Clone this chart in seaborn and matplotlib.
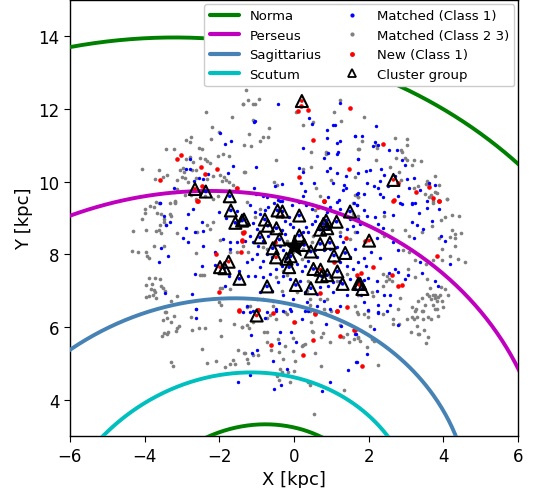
import numpy as np
import matplotlib
matplotlib.use("Agg")
import matplotlib.pyplot as plt
from matplotlib.lines import Line2D
import seaborn as sns

# spiral arms: log spirals around the Galactic centre, R = r0 * exp(-k * theta)
arm_names = ["Norma", "Perseus", "Sagittarius", "Scutum", "Norma"]
arm_colors = ["green", "m", "steelblue", "c", "green"]
arm_r0 = [13.61, 9.49, 6.61, 4.62, 3.24]
arm_k = [0.229, 0.232, 0.235, 0.240, 0.230]

blue_pts = np.array([
    (-1.97, 11.34), (-1.84, 11.03), (-1.69, 11.13), (-2.78, 10.63), (-2.89, 10.35), (-2.78, 10.35),
    (-2.68, 10.01), (-2.54, 10.11), (-2.43, 10.08), (-2.29, 10.20), (-1.77, 10.24), (-1.63, 10.43),
    (-3.59, 9.42), (-3.20, 9.82),
    (-0.44, 12.13), (1.23, 12.16), (-1.07, 11.64), (-1.04, 11.66), (0.41, 11.75), (0.48, 11.59),
    (0.89, 11.43), (1.05, 11.57), (1.11, 11.57), (0.89, 11.20), (1.23, 11.13), (1.14, 11.06),
    (1.62, 11.26), (0.23, 10.92), (0.92, 10.79), (1.18, 10.83), (1.16, 10.75), (0.81, 10.66),
    (1.70, 10.63), (-1.03, 10.41), (0.14, 10.38), (0.25, 10.26), (0.96, 10.37), (0.87, 10.29),
    (1.15, 10.24), (1.39, 10.15), (1.05, 9.96), (1.34, 9.91), (1.40, 9.84), (0.54, 9.97),
    (0.20, 9.97), (0.30, 9.75), (-0.33, 9.93), (-0.51, 9.88), (-1.07, 9.82), (-1.03, 9.66),
    (-0.82, 9.62), (-0.71, 9.59), (-0.42, 9.51), (-0.38, 9.46), (0.23, 9.60), (0.91, 9.58),
    (1.21, 9.49), (1.30, 9.77), (1.61, 9.42), (1.70, 9.69),
    (2.20, 11.53), (1.63, 11.27), (1.81, 11.27), (2.17, 11.09), (2.11, 10.98), (2.26, 11.00),
    (2.54, 10.88), (2.75, 10.86), (2.88, 10.61), (2.97, 10.45), (1.72, 10.63), (1.92, 10.30),
    (2.04, 10.32), (2.33, 10.35), (2.42, 10.19), (2.29, 10.02), (1.96, 9.97), (2.15, 9.87),
    (2.26, 9.83), (2.51, 9.88), (2.69, 10.15), (3.02, 10.07), (3.20, 10.10), (3.08, 9.84),
    (3.36, 9.78), (3.60, 9.97), (3.76, 9.91), (2.79, 9.62), (2.29, 9.67), (2.37, 9.57),
    (1.88, 9.67), (1.68, 9.66), (2.84, 9.42), (3.15, 9.42), (1.70, 10.24),
    (-3.58, 9.42), (-2.70, 9.24), (-2.84, 9.12), (-3.48, 9.07), (-3.32, 8.89), (-3.43, 8.82),
    (-2.47, 8.90), (-2.43, 8.64), (-2.88, 8.72), (-2.65, 8.63), (-2.96, 8.45), (-2.84, 8.35),
    (-2.43, 8.23), (-3.57, 8.19), (-3.38, 7.97), (-3.62, 7.78), (-2.00, 9.16), (-1.83, 9.00),
    (-1.53, 9.20), (-1.91, 8.43), (-1.70, 8.35), (-1.52, 8.35), (-1.72, 8.15), (-2.11, 8.08),
    (-2.12, 7.71), (-2.45, 7.69), (-2.65, 7.45), (-1.75, 7.40), (-1.86, 7.12), (-1.48, 7.55),
    (-2.74, 6.92), (-3.46, 6.94), (-2.61, 6.50),
    (-1.18, 9.35), (-1.05, 9.16), (-0.91, 9.12), (-1.27, 8.84), (-1.11, 8.87), (-1.00, 8.70),
    (-1.18, 8.52), (-1.31, 8.38), (-1.09, 8.34), (-0.96, 8.24), (-0.82, 8.38), (-0.69, 8.52),
    (-0.24, 8.93), (-0.11, 8.84), (-0.13, 9.02), (-0.02, 8.75), (-0.33, 8.66), (-0.24, 8.56),
    (0.25, 8.61), (0.32, 8.75), (0.38, 8.61), (0.47, 8.84), (0.56, 8.93), (0.62, 9.05),
    (0.47, 9.25), (0.32, 9.36), (0.14, 9.44), (-0.06, 9.35), (-0.33, 9.46), (-0.54, 9.42),
    (-0.69, 9.30), (-0.78, 9.21), (-0.38, 8.24), (-0.29, 8.11), (-0.60, 7.92), (-0.73, 8.01),
    (-0.82, 7.83), (-1.00, 8.01), (-1.13, 7.88), (-1.27, 7.78), (-0.91, 7.65), (-1.05, 7.42),
    (-1.22, 7.42), (-0.82, 7.37), (-0.64, 7.46), (-0.47, 7.60), (-0.33, 7.69), (0.07, 7.74),
    (0.21, 7.55), (0.29, 7.69), (0.38, 7.83), (0.62, 7.92), (0.56, 8.11), (0.79, 8.11),
    (0.96, 8.15), (1.14, 8.20), (1.32, 8.34), (1.23, 8.52), (1.41, 8.70), (1.59, 8.79),
    (1.68, 8.61), (1.63, 8.15), (1.50, 7.92), (1.23, 7.78), (1.41, 7.69), (1.59, 7.60),
    (1.68, 7.42), (1.50, 7.33), (1.23, 7.28), (1.05, 7.23), (0.92, 7.14), (0.70, 7.10),
    (0.61, 6.91), (0.29, 6.96), (0.16, 7.28), (-0.11, 7.32), (-0.29, 7.42), (-0.42, 7.23),
    (-0.60, 7.00), (-0.91, 6.96), (-1.00, 6.77), (-0.82, 6.77), (-0.55, 6.73), (-0.29, 6.87),
    (-0.02, 6.77), (0.34, 6.68), (0.79, 6.73), (1.05, 6.96), (1.41, 6.87), (1.63, 7.05),
    (1.23, 6.59), (0.96, 6.50), (0.61, 6.59), (0.38, 6.45), (-0.11, 6.50), (-0.47, 6.50),
    (-0.73, 6.41), (-1.09, 6.45), (-1.27, 6.59), (-1.36, 6.41), (1.16, 9.44), (1.23, 9.25),
    (0.96, 9.30), (0.79, 9.44), (0.87, 9.16), (1.50, 8.98), (1.72, 8.98), (1.68, 9.35),
    (1.68, 9.35), (1.86, 9.21), (1.95, 9.05), (2.17, 9.02), (2.42, 9.16), (2.66, 9.09),
    (2.88, 9.39), (3.15, 9.39), (3.24, 9.42), (3.55, 9.46), (3.55, 9.27), (3.35, 9.14),
    (3.87, 9.25), (1.77, 8.84), (2.26, 8.84), (2.39, 8.72), (3.15, 8.90), (3.28, 8.81),
    (3.46, 8.70), (3.69, 8.93), (3.94, 8.52), (4.03, 8.38), (2.21, 8.45), (2.66, 8.34),
    (3.20, 8.45), (2.79, 8.11), (2.06, 8.06), (2.30, 7.89), (1.88, 7.89), (1.72, 7.80),
    (1.92, 7.69), (3.37, 7.78), (4.18, 7.74), (3.42, 7.49), (2.69, 7.60), (2.78, 7.53),
    (2.53, 7.49), (3.04, 7.44), (2.97, 7.33), (2.21, 7.28), (1.99, 7.34), (1.87, 7.31),
    (2.21, 7.00), (2.42, 6.88), (2.57, 6.88), (1.79, 6.87), (2.24, 6.61), (2.57, 6.61),
    (1.99, 6.47), (2.24, 6.41), (3.78, 7.28), (3.85, 7.12), (1.86, 6.68),
    (-2.61, 6.50), (-2.61, 6.26), (-1.49, 4.50),
    (-1.18, 6.41), (-0.78, 6.24), (-0.47, 6.45), (-0.29, 6.43), (-0.09, 6.45), (0.21, 6.21),
    (0.29, 6.45), (0.86, 6.09), (1.27, 6.04), (-0.38, 5.87), (-0.09, 5.86), (0.04, 5.58),
    (-0.41, 5.56), (-1.16, 5.79), (-1.13, 5.28), (-1.00, 5.38), (-0.55, 5.08), (-0.20, 4.85),
    (1.65, 5.81), (1.66, 5.03), (1.44, 4.83), (0.96, 4.48), (0.76, 4.25), (-0.53, 4.30),
    (-0.35, 4.41), (-1.18, 4.69),
    (2.26, 6.39), (2.48, 6.45), (2.13, 5.95), (2.77, 6.07), (1.63, 5.81), (1.96, 5.26), (1.68, 5.03),
])

gray_pts = np.array([
    (-1.36, 12.13), (-2.36, 11.92), (-1.65, 11.79), (-2.19, 11.51), (-2.01, 11.37), (-2.76, 11.23),
    (-2.88, 11.16), (-2.78, 11.09), (-2.23, 11.18), (-2.55, 10.92), (-2.46, 10.89), (-3.43, 10.89),
    (-3.22, 10.91), (-1.90, 10.77), (-2.03, 10.72), (-1.73, 10.70), (-2.79, 10.68), (-2.88, 10.63),
    (-2.70, 10.54), (-2.52, 10.65), (-2.37, 10.63), (-2.32, 10.56), (-2.25, 10.52), (-2.98, 10.37),
    (-3.05, 10.31), (-2.95, 10.28), (-2.74, 10.33), (-2.63, 10.31), (-4.07, 10.36), (-3.61, 10.33),
    (-3.41, 10.19), (-3.50, 10.12), (-3.72, 10.08), (-3.12, 10.06), (-3.00, 10.13), (-2.91, 10.10),
    (-2.83, 9.99), (-2.61, 10.10), (-2.32, 10.08), (-2.18, 10.15), (-1.98, 10.19), (-1.88, 10.13),
    (-1.94, 10.03), (-1.82, 10.06), (-1.73, 9.99), (-1.63, 9.90), (-1.54, 9.84), (-3.12, 9.80),
    (-2.92, 9.64), (-2.77, 9.64), (-2.62, 9.53), (-2.39, 9.62), (-2.16, 9.53), (-2.03, 9.62),
    (-3.21, 9.71), (-3.68, 9.44), (-3.18, 9.44), (-1.34, 10.26),
    (-1.29, 12.53), (-1.22, 12.24), (-1.36, 12.13), (-1.11, 12.15), (-1.05, 12.14), (-0.95, 12.28),
    (-1.09, 11.69), (-1.20, 11.32), (-0.84, 11.23), (-0.70, 11.23), (-0.66, 11.48), (-0.91, 11.11),
    (-1.33, 11.02), (-1.15, 10.97), (-0.48, 10.60), (-1.31, 10.26), (0.25, 11.57), (0.50, 11.64),
    (0.05, 11.93), (0.45, 10.83), (0.85, 10.83), (1.06, 11.93), (1.25, 11.67), (0.25, 10.36),
    (0.45, 10.41), (0.98, 10.06), (0.59, 9.82), (0.70, 9.60), (1.63, 9.64), (1.72, 9.57),
    (1.63, 10.13), (1.72, 10.89), (-0.54, 9.99), (-0.45, 9.92), (1.23, 12.24), (0.86, 10.77),
    (1.88, 11.79), (1.83, 11.12), (1.74, 10.89), (2.20, 11.00), (2.22, 10.92), (2.71, 11.20),
    (3.02, 11.18), (3.02, 11.00), (2.87, 10.88), (2.88, 10.81), (2.72, 10.66), (2.96, 10.66),
    (3.02, 10.60), (3.20, 10.60), (3.40, 10.58), (3.15, 10.45), (2.19, 10.59), (2.58, 10.40),
    (2.81, 10.28), (2.86, 10.06), (3.76, 10.15), (3.88, 9.90), (3.55, 10.02), (3.53, 9.94),
    (3.62, 9.90), (3.33, 9.88), (3.51, 9.66), (3.67, 9.64), (3.62, 9.57), (3.78, 9.73),
    (3.82, 9.69), (3.71, 9.48), (4.09, 9.53), (3.22, 9.82), (1.71, 9.57),
    (-3.19, 9.48), (-3.19, 9.42), (-3.32, 9.42), (-3.61, 9.42), (-3.86, 9.33), (-3.74, 9.31),
    (-3.98, 9.25), (-4.00, 9.13), (-4.07, 8.98), (-3.66, 9.13), (-3.55, 9.12), (-3.32, 9.11),
    (-3.28, 9.07), (-3.48, 8.98), (-3.47, 8.89), (-3.43, 8.81), (-3.59, 8.81), (-4.30, 8.64),
    (-3.95, 8.66), (-3.70, 8.64), (-3.61, 8.68), (-3.56, 8.58), (-3.13, 8.58), (-2.59, 8.63),
    (-2.32, 8.82), (-2.18, 8.89), (-2.25, 8.70), (-3.75, 8.24), (-3.48, 8.23), (-4.34, 8.09),
    (-4.17, 8.06), (-3.96, 8.08), (-3.93, 7.97), (-3.88, 7.90), (-2.61, 8.05), (-2.51, 7.44),
    (-2.47, 7.44), (-2.41, 7.44), (-3.87, 7.36), (-3.71, 7.36), (-3.59, 7.32), (-3.95, 7.16),
    (-3.81, 7.19), (-3.84, 7.05), (-3.75, 7.03), (-3.71, 6.96), (-3.57, 7.12), (-3.50, 7.07),
    (-3.46, 7.00), (-3.96, 6.82), (-3.88, 6.85), (-3.77, 6.89), (-3.68, 6.79), (-3.30, 6.73),
    (-3.14, 6.85), (-3.43, 6.41), (-2.01, 6.70), (-1.96, 6.61), (-1.98, 7.07), (-1.92, 7.07),
    (-1.98, 8.41), (-1.71, 8.06), (-1.52, 8.06), (-1.71, 7.05),
    (-1.27, 9.44), (-0.91, 9.25), (-1.05, 9.02), (-1.40, 8.61), (-1.36, 8.24), (-1.22, 8.06),
    (-0.82, 8.20), (-0.73, 8.15), (-0.20, 8.38), (0.03, 8.38), (0.12, 8.15), (0.25, 8.15),
    (0.34, 8.06), (-0.02, 8.06), (-0.29, 7.55), (-0.20, 7.43), (-0.47, 7.37), (0.38, 7.28),
    (0.34, 7.00), (0.07, 6.96), (-0.33, 7.00), (0.43, 6.77), (0.70, 6.77), (0.87, 6.77),
    (1.14, 7.28), (0.96, 7.37), (1.41, 7.46), (1.23, 8.61), (1.59, 9.12), (1.50, 8.43),
    (0.52, 8.52), (0.47, 8.34), (0.21, 7.88), (-0.24, 6.41), (-0.55, 6.57), (-1.27, 6.55),
    (-1.18, 6.59), (0.79, 6.50), (0.43, 6.61), (1.68, 6.41), (1.72, 6.87), (0.56, 9.21), (1.59, 9.42),
    (2.42, 9.07), (1.63, 8.61), (2.35, 8.59), (2.42, 8.50), (2.62, 8.68), (2.97, 8.66),
    (3.08, 8.52), (2.93, 8.13), (3.08, 8.06), (3.42, 8.61), (3.69, 8.79), (3.94, 8.96),
    (4.05, 9.02), (4.22, 9.09), (4.42, 9.07), (4.22, 8.66), (4.31, 8.56), (4.47, 8.59),
    (3.87, 8.45), (4.18, 8.47), (4.31, 8.45), (3.97, 8.15), (4.31, 8.24), (4.18, 7.95),
    (4.40, 7.88), (4.58, 7.80), (3.96, 7.86), (3.71, 7.86), (3.53, 7.74), (3.24, 7.86),
    (2.39, 7.46), (2.48, 7.40), (2.53, 7.33), (2.45, 7.28), (2.62, 7.28), (2.39, 7.12),
    (3.06, 7.60), (3.24, 7.37), (3.55, 7.33), (3.64, 7.07), (3.94, 7.10), (4.04, 7.05),
    (4.12, 6.87), (3.55, 6.91), (3.62, 6.85), (3.71, 6.88), (3.78, 6.87), (3.85, 6.82),
    (3.67, 6.77), (3.76, 6.79), (3.82, 6.73), (3.91, 6.87), (3.96, 6.73), (3.73, 6.61),
    (3.51, 6.61), (3.42, 6.79), (3.33, 6.73), (3.15, 6.55), (3.26, 6.50), (3.46, 6.45),
    (3.82, 6.50), (4.00, 6.55), (2.84, 6.79), (2.12, 6.85), (2.08, 6.97), (1.72, 9.07),
    (1.63, 6.59), (2.79, 6.50), (3.71, 9.42), (4.09, 9.53),
    (-3.44, 6.41), (-3.50, 6.20), (-3.40, 6.24), (-3.21, 6.30), (-3.28, 6.13), (-3.07, 6.02),
    (-3.12, 5.97), (-3.16, 5.88), (-3.37, 5.87), (-3.41, 5.81), (-3.48, 5.84), (-3.53, 5.75),
    (-2.72, 5.93), (-2.55, 5.98), (-2.37, 5.97), (-2.76, 6.29), (-1.98, 6.20), (-1.96, 5.76),
    (-1.61, 6.09), (-1.40, 5.99), (-2.45, 5.40), (-1.49, 5.38), (-1.34, 5.29), (-3.30, 5.03),
    (-3.23, 4.92), (-2.32, 5.01), (-2.09, 5.06), (-1.64, 5.10), (-1.70, 4.98), (-1.58, 4.98),
    (-1.84, 4.89),
    (-1.27, 6.07), (-1.38, 5.99), (-1.20, 5.97), (-1.09, 6.13), (-0.64, 6.33), (-0.71, 6.24),
    (-0.20, 6.36), (-0.47, 6.22), (-0.80, 5.86), (-0.71, 5.87), (-0.71, 5.58), (-0.62, 5.38),
    (-0.39, 5.32), (-0.24, 5.47), (-0.02, 5.35), (-0.02, 5.69), (0.25, 5.51), (0.21, 5.47),
    (0.30, 5.54), (0.45, 6.13), (0.47, 5.90), (0.52, 5.87), (0.56, 5.30), (0.71, 5.72),
    (0.77, 5.84), (0.95, 5.58), (0.84, 6.39), (0.98, 6.43), (1.23, 6.06), (1.32, 5.72),
    (1.41, 5.81), (1.46, 5.58), (1.61, 5.67), (1.72, 5.69), (-1.32, 5.29), (-1.09, 5.23),
    (-0.96, 5.23), (-1.27, 5.11), (-1.22, 5.01), (-0.30, 5.12), (0.03, 5.08), (0.71, 4.92),
    (-0.38, 4.85), (-0.33, 4.77), (-0.15, 4.77), (0.00, 4.80), (-0.45, 4.66), (-0.39, 4.55),
    (-0.11, 4.50), (0.38, 4.50), (0.43, 4.41), (1.34, 4.28), (0.54, 3.61), (0.43, 6.45),
    (0.03, 6.13), (-0.42, 5.67),
    (1.72, 6.36), (1.88, 6.36), (1.97, 6.45), (1.97, 6.27), (2.37, 6.36), (2.66, 6.21),
    (2.66, 6.09), (2.81, 6.09), (3.02, 6.22), (3.17, 6.27), (3.22, 6.21), (3.29, 6.27),
    (3.46, 6.22), (3.58, 6.27), (3.67, 6.22), (3.85, 6.31), (3.42, 6.43), (3.24, 6.45),
    (3.78, 6.50), (3.29, 6.02), (3.13, 5.86), (3.31, 5.81), (3.35, 5.81), (3.48, 5.93),
    (3.58, 5.72), (3.53, 5.56), (2.04, 6.02), (1.71, 5.72), (1.77, 5.61), (2.10, 5.67),
    (2.15, 5.61), (1.96, 5.44), (2.24, 4.96),
])

red_pts = np.array([
    (-3.02, 10.74), (-3.13, 10.62), (-2.49, 10.41), (-2.07, 10.36), (-2.38, 10.21), (-3.58, 10.04),
    (-2.47, 9.88), (-2.59, 9.48), (-1.52, 9.82),
    (0.20, 12.08), (0.12, 11.95), (0.37, 11.98), (1.49, 12.03), (0.51, 11.14), (1.46, 10.34),
    (0.14, 10.13), (0.80, 9.46),
    (2.37, 11.04), (2.79, 9.97), (3.26, 9.72), (3.60, 9.85), (3.71, 9.55), (3.88, 9.46), (2.67, 9.49),
    (-2.58, 9.48), (-1.36, 8.59), (-1.39, 8.39), (-1.43, 8.06), (-2.09, 8.01), (-2.00, 6.96),
    (-1.48, 6.47),
    (-1.34, 8.61), (-1.40, 8.38), (-0.51, 8.35), (-0.33, 9.07), (0.65, 9.30), (0.80, 9.46),
    (1.07, 7.80), (1.39, 8.45), (0.70, 6.94), (0.56, 6.39), (1.16, 6.45), (1.43, 6.55),
    (1.72, 7.25), (-0.96, 6.48), (-0.55, 6.39),
    (2.66, 9.48), (3.88, 9.46), (1.90, 8.38), (3.82, 7.97), (2.12, 7.65), (1.79, 7.49),
    (1.68, 7.44), (2.62, 7.44), (2.78, 7.12), (2.90, 7.16), (1.74, 7.19),
    (-1.48, 6.45), (-0.96, 6.47), (0.56, 6.36), (0.00, 6.15), (-0.62, 5.51), (0.23, 5.24),
    (0.50, 5.65), (1.23, 5.75), (1.61, 5.93), (1.16, 6.45), (1.81, 4.94), (1.63, 5.92),
])

cluster_pts = np.array([
    (0.21, 12.22), (2.66, 10.05), (-2.65, 9.80), (-2.36, 9.73), (-1.72, 9.60),
    (-1.69, 9.21), (-1.57, 8.87), (-1.39, 8.93), (-1.98, 7.65), (-1.75, 7.80), (-1.86, 7.62),
    (-1.46, 7.33),
    (-1.34, 8.96), (-0.78, 8.96), (-0.70, 8.79), (-0.47, 8.72), (-0.44, 9.21), (-0.31, 9.18),
    (0.14, 9.07), (-0.91, 8.47), (-0.39, 8.41), (-0.57, 8.17), (0.14, 8.52), (0.27, 8.26),
    (-0.20, 7.88), (-0.09, 7.95), (-0.13, 7.65), (-0.48, 7.92), (0.45, 8.08), (0.70, 8.29),
    (0.96, 8.32), (1.07, 7.97), (1.37, 8.04), (0.52, 7.60), (0.71, 7.58), (0.74, 7.40),
    (0.89, 7.43), (1.16, 7.53), (1.30, 7.19), (0.05, 7.16), (0.45, 7.07), (0.79, 8.84),
    (0.70, 8.68), (0.89, 8.72), (1.14, 8.90), (0.86, 8.93), (1.50, 9.18), (1.72, 7.19),
    (-0.72, 7.12), (2.01, 8.38), (1.77, 7.19), (1.83, 7.05), (-1.00, 6.32),
])
cluster_inner = ["r", "r", "r", "b", "b", "b", "b", "b", "r", "r", "b", "b",
                 "b", "b", "b", "b", "b", "b", "b", "b", "b", "b", "b", "b",
                 "b", "b", "b", "r", "b", "b", "b", "b", "b", "b", "r", "b",
                 "b", "b", "b", "b", "b", "b", "b", "b", "b", "b", "b", "r",
                 "b", "r", "r", "b", "r"]

sun = (0.0, 8.22)

sns.set_style("ticks")
plt.rcParams["font.family"] = ["DejaVu Sans"]
plt.rcParams.update({"text.color": "black", "axes.labelcolor": "black",
                     "xtick.color": "black", "ytick.color": "black",
                     "axes.edgecolor": "black"})

fig = plt.figure(figsize=(5.37, 4.89), dpi=100)
ax = fig.add_axes([0.130, 0.106, 0.835, 0.892])

sns.scatterplot(x=gray_pts[:, 0], y=gray_pts[:, 1], color="gray", s=7, linewidth=0, ax=ax, zorder=2)
sns.scatterplot(x=blue_pts[:, 0], y=blue_pts[:, 1], color="b", s=6, linewidth=0, ax=ax, zorder=3)
sns.scatterplot(x=red_pts[:, 0], y=red_pts[:, 1], color="r", s=11, linewidth=0, ax=ax, zorder=3)

theta = np.linspace(-1.3, 1.6, 400)
for name, col, r0, k in zip(arm_names, arm_colors, arm_r0, arm_k):
    r = r0 * np.exp(-k * theta)
    sns.lineplot(x=r * np.sin(theta), y=r * np.cos(theta), sort=False, color=col,
                 linewidth=2.8, ax=ax, zorder=4)

ax.scatter(cluster_pts[:, 0], cluster_pts[:, 1], c=cluster_inner, s=7, linewidths=0, zorder=5)
ax.scatter(cluster_pts[:, 0], cluster_pts[:, 1], marker="^", s=75, facecolors="none",
           edgecolors="black", linewidths=1.5, zorder=6)
ax.scatter([sun[0]], [sun[1]], marker="*", s=260, color="black", zorder=7)

ax.set_xlim(-6, 6)
ax.set_ylim(3, 15)
ax.set_xticks([-6, -4, -2, 0, 2, 4, 6])
ax.set_yticks([4, 6, 8, 10, 12, 14])
ax.tick_params(labelsize=12, direction="out", length=4, colors="black")
ax.set_xlabel("X [kpc]", fontsize=13)
ax.set_ylabel("Y [kpc]", fontsize=13)
for sp in ax.spines.values():
    sp.set_color("black")
    sp.set_linewidth(1.0)

handles = [Line2D([], [], color=c, lw=3) for c in arm_colors[:4]]
handles += [
    Line2D([], [], ls="", marker="o", ms=2, color="b"),
    Line2D([], [], ls="", marker="o", ms=2, color="gray"),
    Line2D([], [], ls="", marker="o", ms=2.5, color="r"),
    Line2D([], [], ls="", marker="^", ms=6, mfc="none", mec="black", mew=1.3),
]
labels = arm_names[:4] + ["Matched (Class 1)", "Matched (Class 2 3)", "New (Class 1)", "Cluster group"]
leg = ax.legend(handles, labels, loc="upper right", ncol=2, fontsize=9.5, frameon=True,
                framealpha=1.0, handlelength=2.2, columnspacing=1.2, borderaxespad=0.3)
for t in leg.get_texts():
    t.set_color("black")

fig.savefig("out.png", dpi=100)
